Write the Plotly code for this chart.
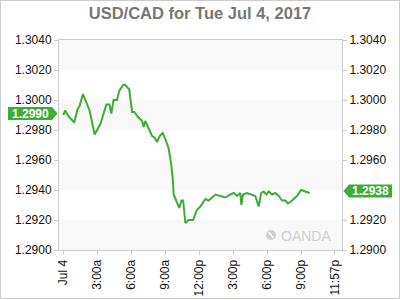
import plotly.graph_objects as go

# ---- data ----
times = ["00:00", "00:10", "00:28", "00:58", "01:16", "01:26", "01:44", "02:19", "02:46", "03:16",
         "03:48", "04:04", "04:14", "04:26", "04:44", "04:56", "05:16", "05:28", "05:49", "06:04",
         "06:16", "06:33", "06:57", "07:05", "07:14", "07:32", "07:50", "08:03", "08:16", "08:30",
         "08:46", "09:00", "09:17", "09:30", "09:39", "09:44", "10:02", "10:14", "10:25", "10:34",
         "10:46", "11:03", "11:27", "11:48", "12:05", "12:32", "12:49", "13:25", "13:51", "14:18",
         "14:44", "15:02", "15:20", "15:37", "15:42", "15:51", "16:13", "16:39", "16:56", "17:14",
         "17:27", "17:40", "17:55", "18:07", "18:25", "18:42", "19:00", "19:18", "19:35", "19:48",
         "20:02", "20:19", "20:37", "20:58", "21:21", "21:44"]
prices = [1.2990, 1.2993, 1.2989, 1.2985, 1.2994, 1.2996, 1.3004, 1.2993, 1.2977, 1.2984,
          1.2997, 1.2997, 1.2991, 1.3000, 1.3000, 1.3006, 1.3010, 1.3010, 1.3007, 1.2992,
          1.2992, 1.2989, 1.2986, 1.2982, 1.2986, 1.2981, 1.2976, 1.2975, 1.2972, 1.2976,
          1.2978, 1.2974, 1.2968, 1.2958, 1.2948, 1.2937, 1.2932, 1.2928, 1.2933, 1.2933,
          1.2918, 1.2920, 1.2920, 1.2927, 1.2929, 1.2934, 1.2933, 1.2937, 1.2936, 1.2935,
          1.2937, 1.2938, 1.2936, 1.2938, 1.2930, 1.2937, 1.2938, 1.2937, 1.2936, 1.2929,
          1.2938, 1.2939, 1.2937, 1.2939, 1.2937, 1.2938, 1.2936, 1.2933, 1.2933, 1.2931,
          1.2932, 1.2934, 1.2936, 1.2940, 1.2939, 1.2938]

x_tick_vals = ["2017-07-04 00:00", "2017-07-04 03:00", "2017-07-04 06:00", "2017-07-04 09:00",
               "2017-07-04 12:00", "2017-07-04 15:00", "2017-07-04 18:00", "2017-07-04 21:00",
               "2017-07-04 23:57"]
x_tick_text = ["Jul 4", "3:00a", "6:00a", "9:00a", "12:00p", "3:00p", "6:00p", "9:00p", "11:57p"]
y_tick_vals = [1.2900, 1.2920, 1.2940, 1.2960, 1.2980, 1.3000, 1.3020, 1.3040]
y_tick_text = ["1.2900", "1.2920", "1.2940", "1.2960", "1.2980", "1.3000", "1.3020", "1.3040"]
# right axis: the 1.2940 label is covered by the last-price flag
y2_tick_text = ["1.2900", "1.2920", "", "1.2960", "1.2980", "1.3000", "1.3020", "1.3040"]

open_label = "1.2990"
last_label = "1.2938"
title = "USD/CAD for Tue Jul 4, 2017"

GREEN = "#3DAE35"
GRID = "#cccccc"
FONT = "Liberation Sans, Arial, sans-serif"

x = ["2017-07-04 " + t for t in times]

fig = go.Figure()
fig.add_trace(go.Scatter(x=x, y=prices, mode="lines",
                         line=dict(color=GREEN, width=2), hoverinfo="skip", showlegend=False))
fig.add_trace(go.Scatter(x=[x[0]], y=[prices[0]], yaxis="y2", mode="markers",
                         marker=dict(opacity=0), hoverinfo="skip", showlegend=False))

# alternating bands
shapes = []
for i in range(0, len(y_tick_vals) - 1, 2):
    shapes.append(dict(type="rect", xref="paper", yref="y", x0=0, x1=1,
                       y0=y_tick_vals[i], y1=y_tick_vals[i + 1],
                       fillcolor="#f8f8f8", line=dict(width=0), layer="below"))

# outer frame
W, H = 400, 300
L, R, T, B = 59, 58, 40, 50
pw, ph = W - L - R, H - T - B


def px2paper_x(px):
    return (px - L) / pw


def px2paper_y(py):
    return (H - B - py) / ph


shapes.append(dict(type="rect", xref="paper", yref="paper",
                   x0=px2paper_x(0.5), x1=px2paper_x(399.5),
                   y0=px2paper_y(298.5), y1=px2paper_y(0.5),
                   line=dict(color="#cccccc", width=1), fillcolor="rgba(0,0,0,0)"))


# price labels (pentagon boxes)
def label_path(left, right, tip, cy, half, arrow_right):
    yt = px2paper_y(cy - half)
    yb = px2paper_y(cy + half)
    ym = px2paper_y(cy)
    xl, xr, xt = px2paper_x(left), px2paper_x(right), px2paper_x(tip)
    if arrow_right:
        return f"M {xl},{yb} L {xr},{yb} L {xt},{ym} L {xr},{yt} L {xl},{yt} Z"
    return f"M {xr},{yb} L {xl},{yb} L {xt},{ym} L {xl},{yt} L {xr},{yt} Z"


shapes.append(dict(type="path", xref="paper", yref="paper",
                   path=label_path(8, 52, 57.5, 113.5, 6.5, True),
                   fillcolor=GREEN, line=dict(width=0)))
shapes.append(dict(type="path", xref="paper", yref="paper",
                   path=label_path(349, 392, 343.5, 191, 6.5, False),
                   fillcolor=GREEN, line=dict(width=0)))

# OANDA logo circle
shapes.append(dict(type="circle", xref="paper", yref="paper",
                   x0=px2paper_x(266), x1=px2paper_x(276),
                   y0=px2paper_y(240), y1=px2paper_y(230),
                   fillcolor="#cfcfcf", line=dict(width=0)))
shapes.append(dict(type="line", xref="paper", yref="paper",
                   x0=px2paper_x(268.5), x1=px2paper_x(273.5),
                   y0=px2paper_y(232), y1=px2paper_y(238),
                   line=dict(color="white", width=1.5)))

annotations = [
    dict(text="<b>" + open_label + "</b>", xref="paper", yref="paper",
         x=px2paper_x(30.5), y=px2paper_y(113.5), showarrow=False,
         font=dict(family=FONT, size=12, color="white"), xanchor="center", yanchor="middle"),
    dict(text="<b>" + last_label + "</b>", xref="paper", yref="paper",
         x=px2paper_x(370.5), y=px2paper_y(191), showarrow=False,
         font=dict(family=FONT, size=12, color="white"), xanchor="center", yanchor="middle"),
    dict(text="OANDA", xref="paper", yref="paper",
         x=px2paper_x(279), y=px2paper_y(235.5), showarrow=False,
         font=dict(family=FONT, size=14, color="#cfcfcf"), xanchor="left", yanchor="middle"),
]

axis_common = dict(showline=True, linecolor=GRID, linewidth=1, mirror=True, automargin=False,
                   ticks="outside", ticklen=4, tickcolor=GRID, showgrid=False, zeroline=False,
                   tickfont=dict(family=FONT, size=12, color="#111"))

fig.update_layout(
    width=W, height=H,
    margin=dict(l=L, r=R, t=T, b=B, autoexpand=False),
    paper_bgcolor="white", plot_bgcolor="white",
    title=dict(text="<b>" + title + "</b>", x=0.5, xanchor="center",
               y=1 - 13 / H, yanchor="middle", automargin=False,
               font=dict(family=FONT, size=16.5, color="#777777")),
    xaxis=dict(type="date", range=["2017-07-03 23:37:15", "2017-07-05 00:34:48"],
               tickmode="array", tickvals=x_tick_vals, ticktext=x_tick_text,
               tickangle=-90, **axis_common),
    yaxis=dict(range=[y_tick_vals[0], y_tick_vals[-1]], tickmode="array",
               tickvals=y_tick_vals, ticktext=y_tick_text, **axis_common),
    yaxis2=dict(range=[y_tick_vals[0], y_tick_vals[-1]], overlaying="y", side="right",
                tickmode="array", tickvals=y_tick_vals, ticktext=y2_tick_text,
                **{k: v for k, v in axis_common.items() if k != "mirror"}),
    shapes=shapes, annotations=annotations,
    showlegend=False, hovermode=False,
)

fig.write_html("out.html")
